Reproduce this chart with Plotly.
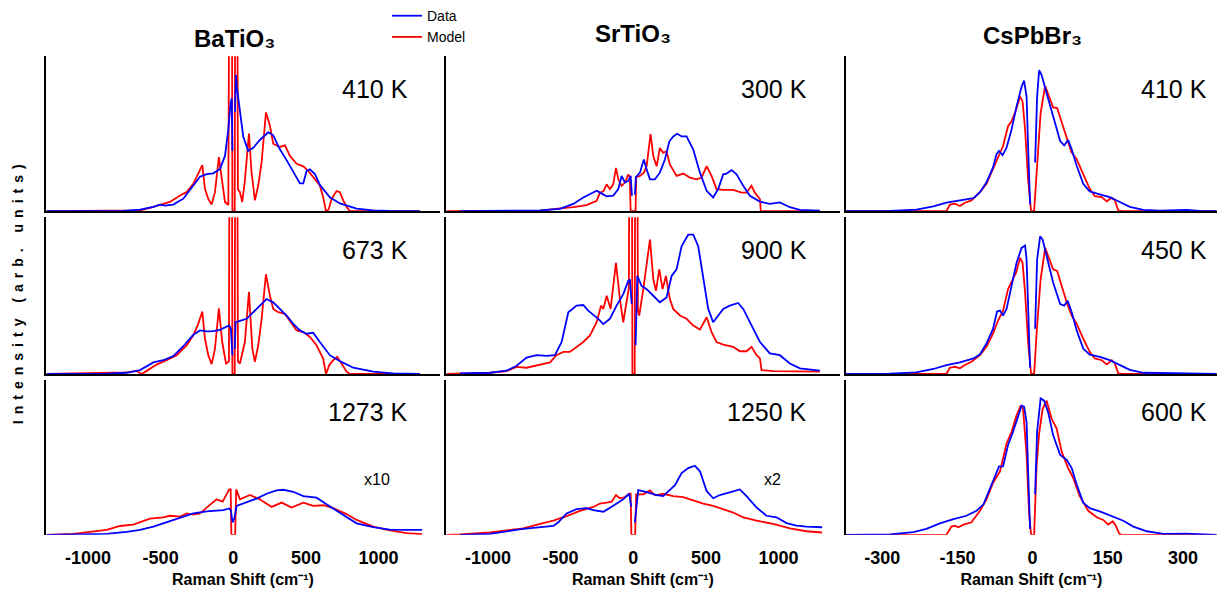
import plotly.graph_objects as go

W, H = 1217, 595

# ---------------- BaTiO3 ----------------
bto410_data_x = [-1284, -757, -642, -550, -505, -470, -413, -344, -275, -229, -183, -138, -92, -57, -34, -18, -10, -6, None,
                 12, 18, 25, 46, 69, 103, 138, 183, 241, 275, 321, 367, 413, 459, 482, 505, 528, 562, 596, 665, 734, 849, 963, 1078, 1284]
bto410_data_y = [0, 0.2, 1.1, 2.8, 4.3, 3.6, 4.3, 8.1, 16.6, 22.3, 24.0, 24.5, 27.2, 35.7, 52.8, 70, 73, 39, None,
                 64, 88, 80, 64, 48, 39, 41, 46, 51, 49, 40, 33, 25, 18, 18, 26, 27, 24, 17, 9, 5, 1.7, 0.6, 0.2, 0]
bto410_model_x = [-1284, -757, -642, -573, -505, -436, -367, -321, -275, -241, -213, -195, -172, -149, -126, -99, -80, -57, -34,
                  -22, -12, -6, 10, 16, 24, 32, 46, 62, 80, 108, 126, 149, 172, 195, 225, 252, 275, 321, 356, 390, 436, 482,
                  516, 550, 596, 619, 638, 656, 677, 711, 734, 757, 780, 803, 1284]
bto410_model_y = [0, 0.4, 0.6, 2.1, 3.8, 6, 10.2, 12.3, 17.7, 25, 29.8, 14.5, 8, 4.3, 12.3, 35, 21, 6, 4,
                  300, 300, 0, 0, 300, 300, 14, 12.3, 6, 20, 50.2, 25, 7, 16.6, 31.5, 63.8, 55.3, 43.6, 41.5, 42.5, 35.7, 30.6, 29,
                  26, 21.7, 16.6, 9.1, 0, 1, 8, 13, 12.3, 7, 2.8, 0, 0]

bto673_data_x = [-1284, -872, -734, -642, -550, -482, -413, -344, -275, -229, -183, -138, -92, -46, -28, -16, -6, None,
                 10, 16, 46, 92, 138, 183, 229, 275, 321, 367, 413, 459, 505, 550, 596, 665, 734, 826, 963, 1101, 1284]
bto673_data_y = [0, 0.2, 0.8, 2.5, 7.4, 8.8, 11.4, 17.7, 25, 27.8, 27.2, 27.4, 28.2, 29.9, 31, 28.8, 12, None,
                 16, 33, 33.9, 35.2, 39.4, 43.6, 47.8, 45.7, 41.5, 37.3, 32, 27.8, 25.7, 26.3, 20.4, 12, 8.2, 4, 1.5, 0.4, 0]
bto673_model_x = [-1284, -734, -665, -631, -596, -528, -459, -390, -321, -275, -241, -213, -195, -172, -149, -126, -99, -76, -50, -30,
                  -22, -12, -6, 10, 16, 24, 32, 46, 80, 108, 131, 149, 172, 195, 225, 252, 275, 310, 356, 390, 436, 482,
                  528, 573, 619, 638, 661, 688, 716, 745, 780, 803, 1284]
bto673_model_y = [0, 1, 2, 0, 2, 6, 8.8, 12, 18.3, 24.6, 32, 39.8, 22.5, 12, 6.3, 16.2, 41.9, 20.4, 6.7, 8,
                  300, 300, 0, 0, 300, 300, 8, 6.7, 20.4, 52.4, 16.2, 7.8, 18.3, 35, 63.6, 50, 41.5, 39.4, 38.3, 34, 27.8, 26.7,
                  23.6, 18.3, 9.9, 0, 5.7, 8.8, 11, 6.7, 1.5, 0, 0]

bto1273_data_x = [-1284, -1101, -872, -734, -642, -550, -459, -367, -275, -183, -115, -69, -28, -16, -5, 6,
                  23, 92, 161, 229, 298, 344, 413, 482, 573, 642, 734, 849, 963, 1078, 1193, 1300]
bto1273_data_y = [0, 0.2, 0.6, 1.9, 3.2, 5.3, 8.1, 11.3, 13.8, 15.1, 15.3, 15.9, 17, 15.5, 8, 10,
                  18.7, 20.8, 23.4, 26.5, 28.7, 29.1, 27.8, 25, 24, 19.7, 14.4, 7.4, 4.9, 3.4, 3.2, 3.2]
bto1273_model_x = [-1284, -1101, -872, -780, -688, -573, -482, -436, -367, -321, -275, -229, -183, -115, -73, -28, -18, -13,
                   13, 20, 46, 115, 183, 264, 333, 401, 482, 550, 619, 688, 780, 849, 963, 1078, 1193, 1300]
bto1273_model_y = [0, 0.6, 3.2, 5.7, 6.6, 10.4, 11.3, 12.3, 11.7, 13.8, 13, 13.8, 17.6, 22.9, 21.4, 29.3, 29.3, 0,
                   0, 29.3, 22.9, 25.7, 22.9, 18, 20.8, 17.6, 20.8, 18.7, 19.1, 17.2, 13.4, 9.6, 5.3, 2.8, 1.1, 0.4]

# ---------------- SrTiO3 ----------------
sto300_data_x = [-1193, -872, -642, -505, -413, -344, -287, -252, -229, -183, -138, -103, -80, -57, -34, -18, -9, None,
                 11, 18, 46, 73, 92, 115, 149, 183, 218, 248, 275, 303, 333, 367, 413, 459, 505, 550, 585, 619, 642,
                 677, 711, 757, 803, 872, 940, 1009, 1078, 1147, 1284]
sto300_data_y = [0, 0.2, 0.6, 1.5, 4.7, 8.9, 11.5, 13.2, 12, 9.6, 10, 14.3, 22.8, 18.5, 19.6, 22.8, 10, None,
                 10.6, 22, 24.9, 33.4, 27, 20.6, 20.6, 24.9, 33.4, 45, 48.3, 50, 48.3, 48.3, 39.8, 24.9, 13.2, 8.9, 14.3, 23.8, 24.3,
                 26.6, 23.8, 16.4, 10, 6.2, 4.7, 5.7, 2.6, 0.9, 0.4]
sto300_model_x = [-1284, -642, -505, -413, -321, -252, -229, -206, -183, -161, -138, -119, -103, -80, -57, -34, -24, -18,
                  16, 20, 46, 73, 92, 119, 138, 161, 183, 206, 229, 252, 298, 344, 390, 436, 470, 505, 539, 573, 619,
                  688, 745, 780, 814, 837, 872, 878, 1284]
sto300_model_y = [0, 0.4, 1.9, 2.6, 4, 6.8, 12, 12.8, 17.4, 14.3, 17.4, 28, 20.6, 16.4, 18.5, 23.8, 22, 0,
                  0, 22, 22.8, 24.9, 29.1, 49.8, 35.5, 29, 40.9, 37.7, 38.7, 30.2, 22.8, 24.3, 21.7, 20.6, 21.7, 29.1, 22.8, 14.3, 13.8,
                  13.8, 12, 12, 16.4, 12, 7.9, 0, 0]

sto900_data_x = [-1193, -986, -872, -803, -734, -665, -596, -539, -493, -447, -390, -344, -310, -275, -241, -206, -161, -115,
                 -69, -34, -23, -11, None, 16, 28, 57, 92, 138, 183, 229, 264, 298, 333, 378, 413, 447, 482, 516, 550,
                 585, 619, 665, 722, 757, 803, 872, 940, 1009, 1078, 1147, 1284]
sto900_data_y = [0.4, 0.8, 2.1, 5.3, 10.5, 12, 11.6, 12, 20.4, 39.4, 43.6, 44, 40.4, 37.7, 35.2, 31.8, 35.2, 43.6,
                 50.9, 59.4, 60.4, 44.6, None, 18.3, 62.5, 56.2, 54.1, 49.9, 45.7, 48.8, 62.5, 66.7, 81.5, 88.8, 88.8, 81.5, 62.5, 41.5, 33,
                 37.3, 41.5, 43.6, 45.3, 41.5, 33, 20.4, 13.1, 12, 6.7, 3.6, 2.1]
sto900_model_x = [-1284, -1193, -986, -872, -803, -734, -642, -573, -528, -482, -436, -390, -344, -298, -252, -222, -206, -183,
                  -156, -119, -92, -69, -46, -30, -22, -12, -6, 10, 16, 24, 32, 41, 69, 96, 115, 138, 156, 179, 202, 225,
                  252, 275, 321, 367, 413, 459, 505, 539, 573, 619, 688, 734, 780, 814, 849, 872, 883, 963, 1284]
sto900_model_y = [0, 0.2, 0.8, 1.9, 4.6, 4, 5.7, 7.4, 12, 14.1, 14.1, 17.3, 20.4, 24.6, 33, 43.6, 41.5, 49.9,
                  41.5, 70.9, 47.8, 33, 45.7, 55, 300, 300, 0, 0, 300, 300, 40, 37.3, 54.1, 73, 85.7, 60.4, 53, 66.7, 54.1, 62.5,
                  47.8, 41.5, 37.3, 35.2, 30.9, 28.4, 36.2, 26.7, 20.4, 18.7, 17.3, 14.5, 14.5, 17.3, 12, 9.9, 2.5, 1.9, 1.5]

sto1250_data_x = [-1193, -986, -757, -642, -550, -516, -459, -390, -321, -275, -206, -138, -69, -28, -14, None,
                  11, 34, 92, 161, 206, 252, 287, 333, 378, 424, 459, 505, 550, 596, 665, 734, 780, 849, 917, 986,
                  1055, 1124, 1193, 1300]
sto1250_data_y = [0, 0.6, 3.8, 4.9, 5.7, 8.1, 13.8, 16.6, 17.2, 15.9, 14.9, 18.7, 22.9, 26.5, 18, None,
                  8, 28.9, 27.6, 25.7, 25, 28.7, 32.1, 39.9, 43.1, 44.6, 41, 28.2, 23.6, 25.7, 27.6, 29.3, 25, 17.6, 12.3, 11.3,
                  7.6, 5.9, 5.3, 4.9]
sto1250_model_x = [-1284, -1193, -986, -757, -642, -550, -459, -367, -275, -229, -183, -149, -119, -92, -57, -28, -18, -13,
                   13, 20, 69, 115, 149, 206, 275, 344, 413, 482, 550, 619, 688, 757, 849, 963, 1078, 1193, 1300]
sto1250_model_y = [0, 0.2, 1.5, 4.2, 7, 9.1, 12.1, 15.5, 18, 20.2, 20.8, 21.4, 25.7, 23.6, 24.4, 26.5, 26.5, 0,
                   0, 26.1, 26.1, 28.7, 25.5, 26.5, 25, 24.4, 22.3, 20.2, 18.7, 16.6, 14.4, 11.3, 9.1, 7, 4.2, 2.3, 1.5]

# ---------------- CsPbBr3 ----------------
cpb410_data_x = [-375, -285, -232, -198, -172, -152, -132, -118, -105, -92, -79, -72, -67, -60, -52, -42, -32, -22, -17, -12,
                 -9, -5, None, 5, 9, 13, 18, 28, 41, 55, 63, 71, 78, 88, 101, 114, 134, 154, 174, 194, 221, 254, 307, 334, 367]
cpb410_data_y = [0, 0.2, 1.1, 3.2, 5.5, 6.6, 7.7, 8.5, 12.3, 18.7, 28.3, 36.8, 38.9, 36.2, 41, 52.8, 67.7, 80.4, 84.3, 74,
                 42, 4.3, None, 31.5, 74, 91, 87.9, 76.2, 61.3, 45.3, 42.6, 46, 40, 29.4, 17.7, 12.8, 10.9, 9.1, 6, 2.8, 0.9, 0.4, 0.9, 0.2, 0]
cpb410_model_x = [-375, -172, -165, -155, -145, -135, -122, -105, -92, -79, -69, -59, -49, -42, -33, -25, -20, -15, -9, -3,
                  3, 9, 16, 25, 33, 41, 49, 58, 68, 78, 88, 101, 114, 124, 138, 148, 158, 164, 171, 178, 367]
cpb410_model_y = [0, 0, 4.3, 4.9, 3.4, 5.5, 7, 12.3, 17.7, 27.2, 34.7, 42.1, 54.9, 58.1, 65.5, 74, 70.9, 52.8, 20.9, 0,
                  0, 31.5, 63.4, 80.9, 74, 67, 66.6, 57, 47.4, 37.9, 33.6, 24, 14.5, 9.8, 9.1, 6.4, 8.7, 7, 0.6, 0, 0]

cpb450_data_x = [-375, -285, -232, -198, -172, -145, -118, -105, -92, -79, -71, -65, -59, -52, -42, -32, -22, -15, -12, -9,
                 -5, None, 5, 9, 15, 20, 28, 41, 55, 63, 70, 78, 88, 101, 114, 134, 154, 174, 194, 221, 307, 367]
cpb450_data_y = [0, 0.2, 1.1, 3.2, 5.7, 7.4, 9.9, 12.6, 19.4, 28.8, 39.8, 40.4, 37.3, 41.5, 56.2, 70.9, 80.4, 81.9, 73, 41.5,
                 4, None, 28.8, 73, 87.8, 85.7, 75.2, 58.3, 44.6, 43.6, 46.7, 39.4, 27.8, 16.2, 12.4, 10.9, 8.8, 5.7, 2.7, 0.8, 0.6, 0]
cpb450_model_x = [-375, -172, -165, -155, -145, -135, -122, -105, -92, -79, -69, -59, -49, -42, -33, -25, -20, -15, -9, -3,
                  3, 9, 16, 25, 33, 41, 49, 58, 68, 78, 88, 101, 114, 124, 138, 148, 158, 164, 171, 178, 367]
cpb450_model_y = [0, 0, 4, 4.6, 3.6, 5.7, 7.8, 12, 17.3, 25.7, 34.1, 40.4, 54.1, 58.3, 64.6, 74.1, 70.9, 52, 20.4, 0,
                  0, 30.9, 60.4, 80.4, 73, 66.7, 65.7, 56.2, 45.7, 37.3, 32, 22.5, 14.1, 9.9, 8.8, 6.1, 8.8, 6.7, 0.4, 0, 0]

cpb600_data_x = [-375, -285, -238, -212, -185, -158, -132, -112, -98, -85, -72, -67, -59, -49, -39, -29, -22, -17, -12, -9,
                 -5, None, 5, 9, 16, 23, 31, 41, 55, 68, 78, 88, 101, 114, 134, 161, 181, 201, 228, 261, 307, 367]
cpb600_data_y = [0, 0.2, 1.7, 3.8, 7.4, 10.2, 12.3, 15.5, 19.7, 30.4, 39.9, 44.2, 44.2, 58, 66.5, 77.1, 83.4, 82.8, 72.8, 41,
                 3.8, None, 26.1, 66.5, 88.1, 86.6, 79.2, 64.3, 51.6, 48.4, 43.1, 32.5, 20.8, 17.2, 15.1, 11.9, 9.1, 5.3, 2.3, 0.6, 0.8, 0]
cpb600_model_x = [-375, -172, -162, -155, -148, -138, -122, -105, -92, -79, -65, -52, -42, -32, -24, -19, -12, -7, -3,
                  3, 8, 13, 20, 28, 38, 48, 58, 71, 81, 94, 111, 128, 141, 151, 160, 166, 173, 178, 367]
cpb600_model_y = [0, 0, 5.3, 5.9, 4.9, 6.6, 8.1, 15.5, 22.9, 33.5, 41, 59, 66.5, 77.1, 83.4, 81.3, 51.6, 13.4, 0,
                  0, 45.2, 65.4, 81.3, 86.6, 74.9, 68.6, 53.7, 43.1, 36.7, 25, 15.5, 11.3, 9.6, 6.6, 8.7, 5.9, 0.6, 0, 0]

# ---------------- labels / ticks ----------------
materials = ["BaTiO₃", "SrTiO₃", "CsPbBr₃"]
temperatures = [["410 K", "300 K", "410 K"],
                ["673 K", "900 K", "450 K"],
                ["1273 K", "1250 K", "600 K"]]
scale_notes = {(2, 0): "x10", (2, 1): "x2"}
x_title = "Raman Shift (cm⁻¹)"
y_title = "Intensity (arb. units)"
tick_vals_wide = [-1000, -500, 0, 500, 1000]
tick_text_wide = ["-1000", "-500", "0", "500", "1000"]
tick_vals_narrow = [-300, -150, 0, 150, 300]
tick_text_narrow = ["-300", "-150", "0", "150", "300"]

series = [
    [(bto410_data_x, bto410_data_y, bto410_model_x, bto410_model_y),
     (sto300_data_x, sto300_data_y, sto300_model_x, sto300_model_y),
     (cpb410_data_x, cpb410_data_y, cpb410_model_x, cpb410_model_y)],
    [(bto673_data_x, bto673_data_y, bto673_model_x, bto673_model_y),
     (sto900_data_x, sto900_data_y, sto900_model_x, sto900_model_y),
     (cpb450_data_x, cpb450_data_y, cpb450_model_x, cpb450_model_y)],
    [(bto1273_data_x, bto1273_data_y, bto1273_model_x, bto1273_model_y),
     (sto1250_data_x, sto1250_data_y, sto1250_model_x, sto1250_model_y),
     (cpb600_data_x, cpb600_data_y, cpb600_model_x, cpb600_model_y)],
]

# ---------------- geometry (pixels) ----------------
col_px = [(46, 440), (445.7, 840), (845.7, 1217)]
col_range = [(-1289, 1423), (-1291, 1423), (-373, 368)]
row_px = [(49, 206), (212, 371), (377, 534)]
temp_x_px = [410, 809, 1209]
temp_y_px = [82, 245, 410]
title_pos = [(234, 31), (633, 26), (1032, 28)]

FONT = "Liberation Sans, Arial, Helvetica, sans-serif"
BLUE = "#0000ff"
RED = "#ff0000"


def px_x(p):
    return p / W


def px_y(p):
    return 1 - p / H


fig = go.Figure()
layout = dict(
    width=W, height=H,
    margin=dict(l=0, r=0, t=0, b=0),
    paper_bgcolor="white", plot_bgcolor="white",
    font=dict(family=FONT, color="black"),
    showlegend=True,
    legend=dict(x=px_x(387), y=1 + 8 / H, xanchor="left", yanchor="top",
                font=dict(family=FONT, size=14, color="black"),
                bgcolor="rgba(0,0,0,0)", borderwidth=0, tracegroupgap=0,
                itemwidth=30, traceorder="normal"),
)
annotations = []

for r in range(3):
    for c in range(3):
        k = r * 3 + c + 1
        xa = "x" if k == 1 else f"x{k}"
        ya = "y" if k == 1 else f"y{k}"
        dx, dy, mx, my = series[r][c]
        first = (k == 1)
        fig.add_trace(go.Scatter(x=mx, y=my, mode="lines", name="Model",
                                 line=dict(color=RED, width=1.8), xaxis=xa, yaxis=ya,
                                 showlegend=first, legendrank=2, connectgaps=False,
                                 hoverinfo="skip"))
        fig.add_trace(go.Scatter(x=dx, y=dy, mode="lines", name="Data",
                                 line=dict(color=BLUE, width=1.8), xaxis=xa, yaxis=ya,
                                 showlegend=first, legendrank=1, connectgaps=False,
                                 hoverinfo="skip"))
        bottom = (r == 2)
        tv = tick_vals_narrow if c == 2 else tick_vals_wide
        tt = tick_text_narrow if c == 2 else tick_text_wide
        xaxis = dict(
            domain=[px_x(col_px[c][0]), px_x(col_px[c][1])],
            range=list(col_range[c]),
            anchor=ya,
            showgrid=False, zeroline=False,
            showline=not bottom, linecolor="black", linewidth=2,
            tickmode="array", tickvals=tv, ticktext=tt,
            showticklabels=bottom,
            ticks="outside" if bottom else "", ticklen=7, tickcolor="rgba(0,0,0,0)",
            tickfont=dict(family=FONT, size=18, color="black", weight="bold"),
            fixedrange=True,
        )
        if bottom:
            xaxis["title"] = dict(text=x_title,
                                  font=dict(family=FONT, size=16, color="black", weight="bold"),
                                  standoff=6)
        yaxis = dict(
            domain=[px_y(row_px[r][1]), px_y(row_px[r][0])],
            range=[0, 100],
            anchor=xa,
            showgrid=False, zeroline=False,
            showline=True, linecolor="black", linewidth=2,
            showticklabels=False, ticks="",
            fixedrange=True,
        )
        layout["xaxis" if k == 1 else f"xaxis{k}"] = xaxis
        layout["yaxis" if k == 1 else f"yaxis{k}"] = yaxis

        annotations.append(dict(text=temperatures[r][c], xref="paper", yref="paper",
                                x=px_x(temp_x_px[c]), y=px_y(temp_y_px[r]),
                                xanchor="right", yanchor="middle", showarrow=False,
                                font=dict(family=FONT, size=25, color="black")))
        if (r, c) in scale_notes:
            annotations.append(dict(text=scale_notes[(r, c)], xref="paper", yref="paper",
                                    x=px_x(377 if c == 0 else 772), y=px_y(478),
                                    xanchor="center", yanchor="middle", showarrow=False,
                                    font=dict(family=FONT, size=16, color="black")))

for c in range(3):
    annotations.append(dict(text=materials[c], xref="paper", yref="paper",
                            x=px_x(title_pos[c][0]), y=px_y(title_pos[c][1]),
                            xanchor="center", yanchor="middle", showarrow=False,
                            font=dict(family=FONT, size=24, color="black", weight="bold")))

annotations.append(dict(text=f'<span style="letter-spacing:6px">{y_title}</span>',
                        xref="paper", yref="paper", x=px_x(18), y=px_y(287),
                        xanchor="center", yanchor="middle", textangle=-90, showarrow=False,
                        font=dict(family=FONT, size=14, color="black", weight="bold")))

layout["annotations"] = annotations
fig.update_layout(**layout)
fig.write_html("out.html", config={"displayModeBar": False},
               post_script="document.body.style.margin='0';document.body.style.padding='0';")
